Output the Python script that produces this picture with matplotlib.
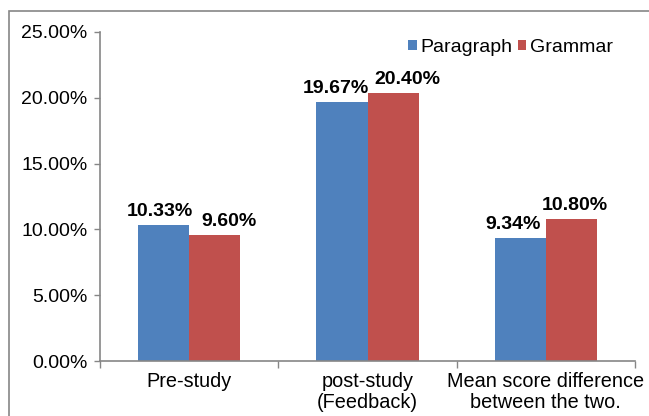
import matplotlib
matplotlib.use("Agg")
import matplotlib.pyplot as plt
import numpy as np
from matplotlib.patches import Rectangle
from matplotlib.ticker import FuncFormatter, FixedLocator

categories = ["Pre-study", "post-study\n(Feedback)", "Mean score difference\nbetween the two."]
paragraph = [10.33, 19.67, 9.34]
grammar = [9.60, 20.40, 10.80]
series_names = ["Paragraph", "Grammar"]
yticks = [0, 5, 10, 15, 20, 25]

# label horizontal nudges (pixels), as placed in the original chart
nudge_paragraph = [-4, -6, -7]
nudge_grammar = [14, 14, 3]

plt.rcParams['font.family'] = ['Liberation Sans', 'DejaVu Sans']

W, H = 649, 416
fig = plt.figure(figsize=(W/100, H/100), dpi=100)
ax = fig.add_axes([100/W, 1-361/H, (635-100)/W, (361-32)/H])

gray = "#868686"
blue = "#4F81BD"
red = "#C0504D"

x = np.arange(len(categories))
bw = 0.287
b1 = ax.bar(x - bw/2, paragraph, bw, color=blue, label=series_names[0])
b2 = ax.bar(x + bw/2, grammar, bw, color=red, label=series_names[1])

px2pt = 72/100
for bars, vals, nudges in ((b1, paragraph, nudge_paragraph), (b2, grammar, nudge_grammar)):
    for r, v, n in zip(bars, vals, nudges):
        ax.annotate(f"{v:.2f}%", (r.get_x() + r.get_width()/2, v),
                    xytext=(n*px2pt, 9*px2pt), textcoords="offset points",
                    ha="center", va="baseline", fontsize=14, fontweight="bold")

ax.set_xlim(-0.5, 2.5)
ax.set_ylim(0, 25)
ax.set_yticks(yticks)
ax.yaxis.set_major_formatter(FuncFormatter(lambda v, p: f"{v:.2f}%"))
ax.set_xticks(x)
ax.set_xticklabels(categories, fontsize=14.3, linespacing=1.1)
ax.xaxis.set_minor_locator(FixedLocator([-0.5, 0.5, 1.5, 2.5]))
ax.tick_params(axis='x', which='major', length=0, pad=8)
ax.tick_params(axis='x', which='minor', length=5, color=gray, width=1)
ax.tick_params(axis='y', length=4, color=gray, width=1, labelsize=14, pad=5)

for s in ("top", "right"):
    ax.spines[s].set_visible(False)
for s in ("left", "bottom"):
    ax.spines[s].set_color(gray)
    ax.spines[s].set_linewidth(1.2)

leg = ax.legend(loc="upper right", bbox_to_anchor=(623/W, 1-29/H),
                bbox_transform=fig.transFigure, ncol=2, frameon=False,
                fontsize=14, handlelength=0.45, handleheight=0.45,
                handletextpad=0.2, columnspacing=0.25, borderpad=0)

fig.patches.append(Rectangle((9/W, -0.1), 1.2, 1.1 - 11/H, transform=fig.transFigure,
                             fill=False, edgecolor=gray, linewidth=1.2))

fig.savefig("out.png", dpi=100)
